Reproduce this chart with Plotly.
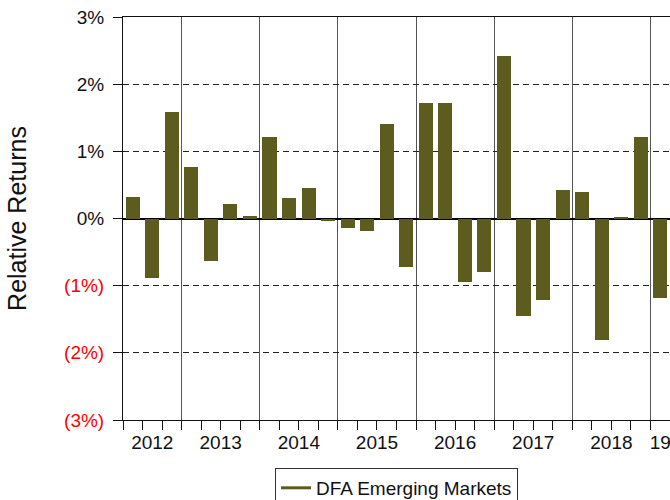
import plotly.graph_objects as go

# Quarterly relative returns (%) vs. benchmark
periods = [
    "2012 Q2", "2012 Q3", "2012 Q4",
    "2013 Q1", "2013 Q2", "2013 Q3", "2013 Q4",
    "2014 Q1", "2014 Q2", "2014 Q3", "2014 Q4",
    "2015 Q1", "2015 Q2", "2015 Q3", "2015 Q4",
    "2016 Q1", "2016 Q2", "2016 Q3", "2016 Q4",
    "2017 Q1", "2017 Q2", "2017 Q3", "2017 Q4",
    "2018 Q1", "2018 Q2", "2018 Q3", "2018 Q4",
    "2019 Q1",
]
relative_returns = [
    0.32, -0.88, 1.59,
    0.76, -0.63, 0.21, 0.03,
    1.22, 0.31, 0.45, -0.03,
    -0.14, -0.19, 1.41, -0.72,
    1.72, 1.72, -0.95, -0.79,
    2.42, -1.45, -1.22, 0.42,
    0.40, -1.81, 0.02, 1.21,
    -1.19,
]
year_labels = ["2012", "2013", "2014", "2015", "2016", "2017", "2018", "19"]
y_ticks = [-3, -2, -1, 0, 1, 2, 3]
series_name = "DFA Emerging Markets"

BAR_COLOR = "#5c5c1f"
FONT = "Arial, Liberation Sans, sans-serif"

x_idx = list(range(len(periods)))
years = [p.split()[0] for p in periods]

# year groups: centre positions for labels, boundaries for separators
year_order = []
for y in years:
    if y not in year_order:
        year_order.append(y)
year_centers = []
for y in year_order:
    idx = [i for i, yy in enumerate(years) if yy == y]
    year_centers.append(sum(idx) / len(idx))
year_bounds = [i - 0.5 for i in range(1, len(years)) if years[i] != years[i - 1]]


def fmt_pct(v):
    if v < 0:
        return f'<span style="color:#ff0000">({abs(v)}%)</span>'
    return f"{v}%"


fig = go.Figure()
fig.add_trace(go.Bar(
    x=x_idx, y=relative_returns, width=0.72,
    marker=dict(color=BAR_COLOR, line=dict(width=0)),
    showlegend=False, hovertext=periods,
))
# legend entry drawn as a short line
fig.add_trace(go.Scatter(
    x=[None], y=[None], mode="lines", name=series_name,
    line=dict(color=BAR_COLOR, width=3), xaxis="x2",
))

x_range = [-0.5, len(periods) - 0.5]
fig.update_layout(
    width=670, height=500,
    margin=dict(l=123, r=0, t=17, b=80, autoexpand=False),
    paper_bgcolor="white", plot_bgcolor="white",
    font=dict(family=FONT, size=19, color="#111"),
    bargap=0,
    xaxis=dict(
        range=x_range, tickmode="array", tickvals=year_bounds,
        showticklabels=False, ticks="outside", ticklen=9, tickcolor="#111",
        showgrid=True, gridcolor="#555", gridwidth=1,
        showline=True, linecolor="#111", linewidth=1, mirror=True,
        zeroline=False,
        minor=dict(ticks="outside", tick0=-0.5, dtick=1, ticklen=9,
                   tickcolor="#111", showgrid=False),
    ),
    xaxis2=dict(
        range=x_range, overlaying="x", anchor="y", side="bottom",
        tickmode="array", tickvals=year_centers, ticktext=year_labels,
        ticks="", showgrid=False, showline=False, zeroline=False,
        ticklabelstandoff=9, ticklabeloverflow="allow",
        tickfont=dict(size=19, color="#111"),
    ),
    yaxis=dict(
        range=[-3, 3], tickmode="array", tickvals=y_ticks,
        ticktext=[fmt_pct(v) for v in y_ticks],
        ticks="outside", ticklen=9, tickcolor="#111",
        ticklabelstandoff=5,
        showgrid=True, gridcolor="#222", gridwidth=1, griddash="6px,4px",
        zeroline=True, zerolinecolor="#000", zerolinewidth=2,
        showline=True, linecolor="#111", linewidth=1,
        layer="above traces",
        tickfont=dict(size=19),
        title=dict(text="Relative Returns", font=dict(size=25, color="#111"),
                   standoff=30),
    ),
    legend=dict(
        orientation="h", x=0.5, xanchor="center", y=-0.119, yanchor="top",
        bordercolor="#333", borderwidth=1, font=dict(size=19, color="#111"),
        bgcolor="white",
    ),
)

fig.write_html("out.html")
